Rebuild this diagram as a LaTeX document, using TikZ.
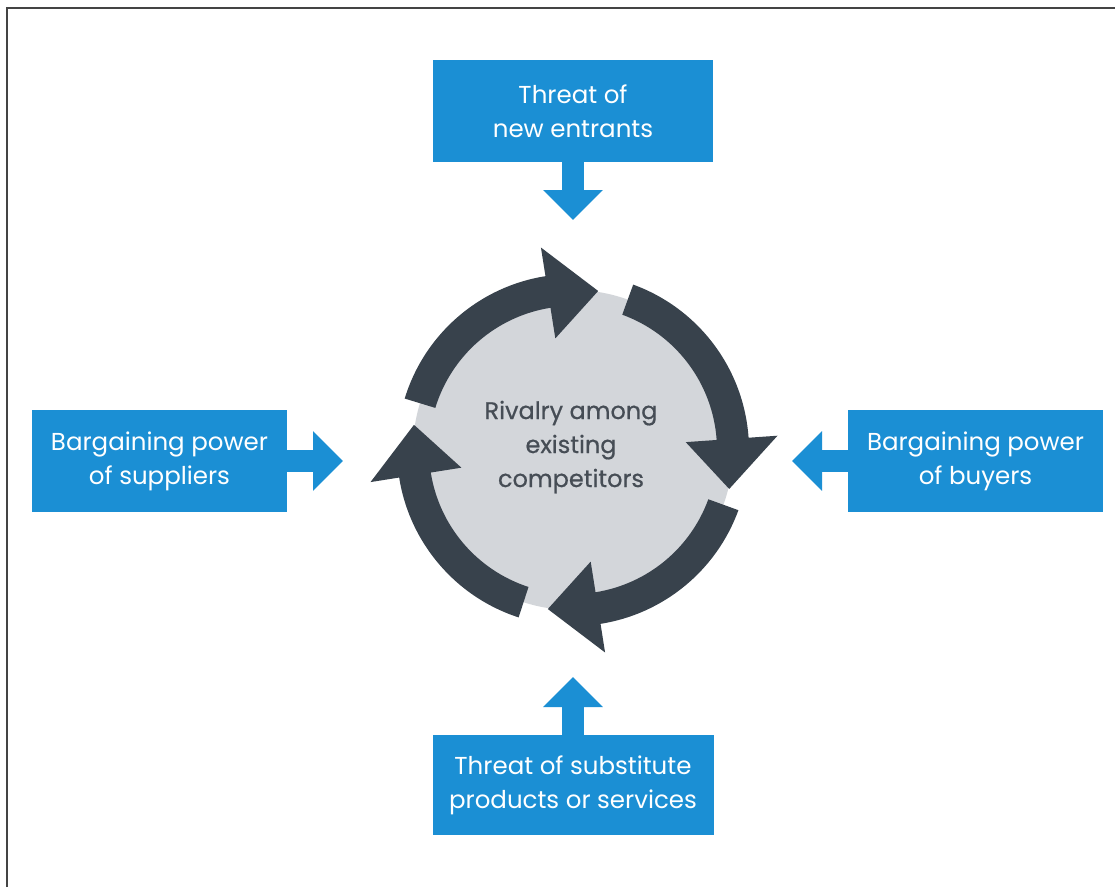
\documentclass[tikz,border=0pt]{standalone}
\usepackage{fontspec}
\setmainfont{Poppins}
\newfontfamily\centerfont[FakeBold=0.6]{Poppins}
\usetikzlibrary{arrows.meta}
\definecolor{boxblue}{HTML}{1B8FD4}
\definecolor{ringdark}{HTML}{38424C}
\definecolor{discgray}{HTML}{D3D6DA}
\definecolor{textgray}{HTML}{464D55}
\definecolor{framegray}{HTML}{444444}
\tikzset{
  forcebox/.style={fill=boxblue, draw=none, text=white, align=center, inner sep=0pt,
    font=\fontsize{24.5}{34}\selectfont},
  blockarrow/.style={draw=boxblue, line width=22pt,
    -{Triangle[length=30pt,width=58pt]}},
  ringarrow/.style={fill=ringdark, draw=none},
}
\begin{document}
\begin{tikzpicture}[x=1pt,y=-1pt]
\useasboundingbox (0,0) rectangle (1115,887);
\fill[white] (0,0) rectangle (1115,887);
\draw[framegray, line width=2pt] (6.5,887) -- (6.5,7.5) -- (1115,7.5);

% boxes
\node[forcebox, minimum width=280pt, minimum height=102pt] (top) at (573,111) {Threat of\\new entrants};
\node[forcebox, minimum width=255pt, minimum height=102pt] (left) at (159.5,461) {Bargaining power\\of suppliers};
\node[forcebox, minimum width=255pt, minimum height=102pt] (right) at (975.5,461) {Bargaining power\\of buyers};
\node[forcebox, minimum width=281pt, minimum height=100pt] (bottom) at (573,785) {Threat of substitute\\products or services};

% central disc and ring arrows
\begin{scope}[shift={(573,450)}, y=1pt]
  \fill[discgray] (0,0) circle[radius=160];
  \foreach \T/\B in {163/99, 70/4, -20/-81, -108/-171} {
    \pgfmathsetmacro{\P}{\B-18}
    \fill[ringarrow] (\T:176) arc[start angle=\T, end angle=\B, radius=176]
      -- (\B:205) -- (\P:161) -- (\B:113) -- (\B:144)
      arc[start angle=\B, end angle=\T, radius=144] -- cycle;
  }
\end{scope}
\node[text=textgray, align=center, font=\centerfont\fontsize{24}{34}\selectfont] (center) at (571,447)
  {Rivalry among\\existing\\competitors};

% block arrows
\coordinate (topTip) at (573,220);
\coordinate (bottomTip) at (573,677);
\coordinate (leftTip) at (343,461);
\coordinate (rightTip) at (792,461);
\draw[blockarrow] (top.south) -- (topTip);
\draw[blockarrow] (bottom.north) -- (bottomTip);
\draw[blockarrow] (left.east) -- (leftTip);
\draw[blockarrow] (right.west) -- (rightTip);
\end{tikzpicture}
\end{document}
